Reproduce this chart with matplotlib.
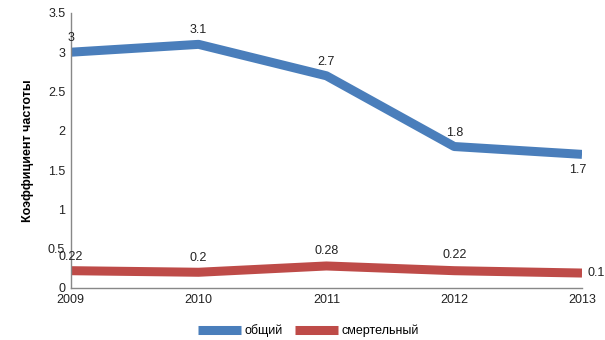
import matplotlib
matplotlib.use("Agg")
import matplotlib.pyplot as plt

plt.rcParams['font.family'] = ['Liberation Sans', 'DejaVu Sans']

years = [2009, 2010, 2011, 2012, 2013]
general = [3, 3.1, 2.7, 1.8, 1.7]
fatal = [0.22, 0.2, 0.28, 0.22, 0.19]

blue = '#4a7ebb'
red = '#be4b48'

fig = plt.figure(figsize=(6.05, 3.4), dpi=100)
ax = fig.add_axes([0.117, 0.153, 0.845, 0.809])

ax.plot(years, general, color=blue, lw=6.5, solid_capstyle='butt', label='общий')
ax.plot(years, fatal, color=red, lw=6.5, solid_capstyle='butt', label='смертельный')

# value labels
gen_off = [(0, 10), (0, 10), (0, 10), (0, 10), (-3, -11)]
for x, y, off in zip(years, general, gen_off):
    ax.annotate(f'{y:g}', (x, y), xytext=off, textcoords='offset points',
                ha='center', va='center', fontsize=9, color='#222222',
                annotation_clip=False)
fat_off = [(0, 10), (0, 10), (0, 11), (0, 11), (4, 0)]
for x, y, off in zip(years, fatal, fat_off):
    ax.annotate(f'{y:g}', (x, y), xytext=off, textcoords='offset points',
                ha='left' if off[0] > 0 else 'center', va='center',
                fontsize=9, color='#222222', annotation_clip=False)

ax.set_xlim(2009, 2013)
ax.set_ylim(0, 3.5)
ax.set_xticks(years)
ax.set_yticks([0, 0.5, 1, 1.5, 2, 2.5, 3, 3.5])
ax.set_yticklabels(['0', '0.5', '1', '1.5', '2', '2.5', '3', '3.5'])
ax.tick_params(length=0, labelsize=9, colors='#222222', pad=4)
ax.tick_params(axis='x', pad=4)

for s in ['top', 'right']:
    ax.spines[s].set_visible(False)
for s in ['left', 'bottom']:
    ax.spines[s].set_color('#888888')
    ax.spines[s].set_linewidth(1)

ax.set_ylabel('Коэффициент частоты', fontsize=9, fontweight='bold', labelpad=10)

fig.legend(loc='lower center', bbox_to_anchor=(0.51, -0.025), ncol=2, frameon=False,
           fontsize=9, handlelength=3.4, handleheight=0.6, columnspacing=1.0,
           handletextpad=0.3)

fig.savefig('out.png', dpi=100)
